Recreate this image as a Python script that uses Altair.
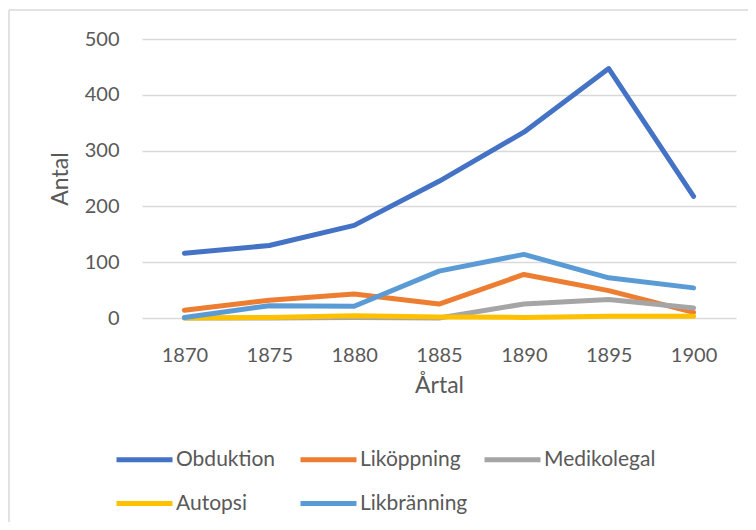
import altair as alt
import pandas as pd

years = ["1870", "1875", "1880", "1885", "1890", "1895", "1900"]
series = ["Obduktion", "Liköppning", "Medikolegal", "Autopsi", "Likbränning"]
obduktion = [116, 130, 166, 245, 333, 447, 218]
likoppning = [14, 32, 43, 25, 78, 49, 10]
medikolegal = [0, 0, 1, 0, 25, 33, 18]
autopsi = [0, 1, 4, 2, 1, 3, 3]
likbranning = [1, 22, 21, 84, 114, 72, 54]
colors = ["#4472C4", "#ED7D31", "#A5A5A5", "#FFC000", "#5B9BD5"]

values = [obduktion, likoppning, medikolegal, autopsi, likbranning]
rows = []
for s, vals in zip(series, values):
    for y, v in zip(years, vals):
        rows.append({"Årtal": y, "Serie": s, "Antal": v})
df = pd.DataFrame(rows)

FONT = "Lato"
TXT = "#595959"

lines = alt.Chart(df).mark_line(strokeWidth=5, strokeCap="round", strokeJoin="round").encode(
    x=alt.X("Årtal:O", scale=alt.Scale(padding=0.5),
            axis=alt.Axis(title="Årtal", labelAngle=0, ticks=False, domain=False, grid=False,
                          labelPadding=27, labelFontSize=20, labelFont=FONT, labelColor=TXT,
                          titleFontSize=23, titleFont=FONT, titleColor=TXT, titleFontWeight="normal",
                          titleY=67, titleBaseline="middle")),
    y=alt.Y("Antal:Q", scale=alt.Scale(domain=[0, 500], nice=False),
            axis=alt.Axis(title="Antal", values=[0, 100, 200, 300, 400, 500], ticks=False, domain=False,
                          grid=True, gridColor="#D9D9D9", gridWidth=1.3,
                          labelPadding=23, labelFontSize=20, labelFont=FONT, labelColor=TXT,
                          titleFontSize=23, titleFont=FONT, titleColor=TXT, titleFontWeight="normal",
                          titleAngle=270, titleX=-82, titleY=139.5, titleAlign="center",
                          titleBaseline="middle")),
    color=alt.Color("Serie:N", scale=alt.Scale(domain=series, range=colors),
                    legend=alt.Legend(title=None, orient="none", legendX=-14, legendY=404,
                                      direction="horizontal",
                                      columns=3, gridAlign="all", columnPadding=2, rowPadding=17,
                                      symbolType="M-2,0H2", symbolSize=784, symbolStrokeWidth=5,
                                      labelFontSize=21, labelFont=FONT, labelColor=TXT,
                                      labelOffset=15, labelLimit=300, padding=0)),
)

frame_left = alt.Chart(alt.Data(values=[{}])).mark_rule(color="#D9D9D9", strokeWidth=1.5).encode(
    x=alt.value(-133), y=alt.value(-29), y2=alt.value(500))
frame_top = alt.Chart(alt.Data(values=[{}])).mark_rule(color="#D9D9D9", strokeWidth=1.5).encode(
    x=alt.value(-133), x2=alt.value(700), y=alt.value(-29))

chart = alt.layer(frame_left, frame_top, lines).properties(
    width=594, height=279,
    padding={"left": 134, "top": 31, "right": 12, "bottom": 204},
    autosize=alt.AutoSizeParams(type="none"),
).configure_view(stroke=None)

chart.save("out.html", embed_options={"renderer": "svg", "actions": False})
